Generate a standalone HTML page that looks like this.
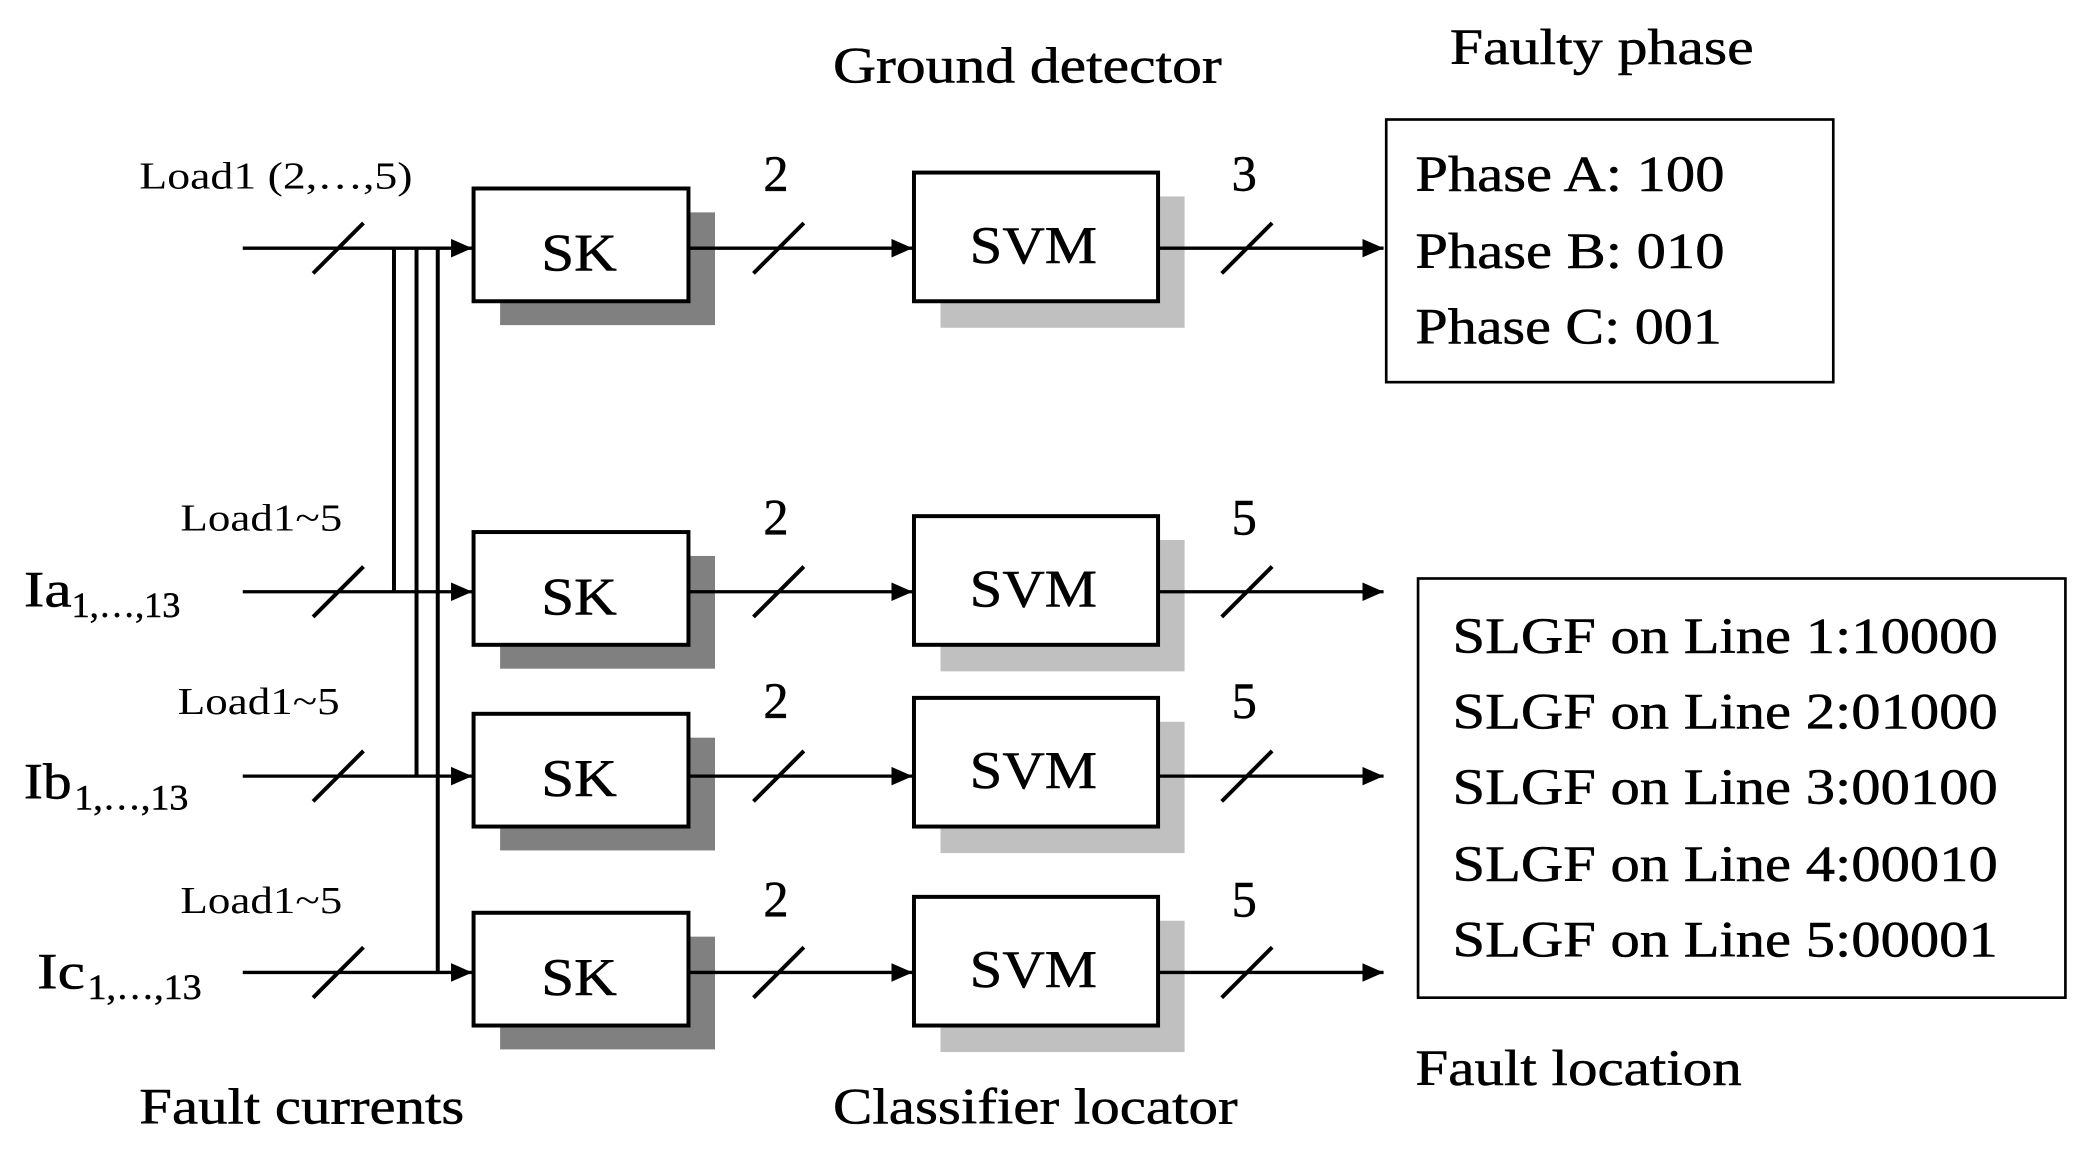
<!DOCTYPE html>
<html><head><meta charset="utf-8"><style>html,body{margin:0;padding:0;background:#fff}svg{display:block}</style></head>
<body>
<svg width="2080" height="1153" viewBox="0 0 1568 869" xmlns="http://www.w3.org/2000/svg" font-family="'Liberation Serif',serif">
<defs><marker id="a" markerWidth="16" markerHeight="14" refX="16" refY="7" orient="auto" markerUnits="userSpaceOnUse"><path d="M0,0 L16,7 L0,14 Z" fill="#000"/></marker></defs>
<g font-size="38" fill="#000" stroke="#000" stroke-width="0.4" lengthAdjust="spacingAndGlyphs">
<text x="628" y="62" textLength="293" lengthAdjust="spacingAndGlyphs">Ground detector</text>
<text x="1093" y="48" textLength="229" lengthAdjust="spacingAndGlyphs">Faulty phase</text>
<text x="105" y="847" textLength="245" lengthAdjust="spacingAndGlyphs">Fault currents</text>
<text x="628" y="847" textLength="305" lengthAdjust="spacingAndGlyphs">Classifier locator</text>
<text x="1067" y="818" textLength="246" lengthAdjust="spacingAndGlyphs">Fault location</text>
<text x="1067" y="144" textLength="233" lengthAdjust="spacingAndGlyphs">Phase A: 100</text>
<text x="1067" y="202" textLength="233" lengthAdjust="spacingAndGlyphs">Phase B: 010</text>
<text x="1067" y="259" textLength="231" lengthAdjust="spacingAndGlyphs">Phase C: 001</text>
<text x="1095" y="492" textLength="411" lengthAdjust="spacingAndGlyphs">SLGF on Line 1:10000</text>
<text x="1095" y="549" textLength="411" lengthAdjust="spacingAndGlyphs">SLGF on Line 2:01000</text>
<text x="1095" y="606" textLength="411" lengthAdjust="spacingAndGlyphs">SLGF on Line 3:00100</text>
<text x="1095" y="664" textLength="411" lengthAdjust="spacingAndGlyphs">SLGF on Line 4:00010</text>
<text x="1095" y="721" textLength="411" lengthAdjust="spacingAndGlyphs">SLGF on Line 5:00001</text>
<text x="18" y="457" textLength="36" lengthAdjust="spacingAndGlyphs">Ia</text><text x="54" y="465" font-size="27" textLength="82" lengthAdjust="spacingAndGlyphs">1,…,13</text>
<text x="18" y="602" textLength="36" lengthAdjust="spacingAndGlyphs">Ib</text><text x="56" y="610" font-size="27" textLength="86" lengthAdjust="spacingAndGlyphs">1,…,13</text>
<text x="28" y="745" textLength="36" lengthAdjust="spacingAndGlyphs">Ic</text><text x="66" y="753" font-size="27" textLength="86" lengthAdjust="spacingAndGlyphs">1,…,13</text>
</g>
<g font-size="29" fill="#000">
<text x="105" y="142" textLength="206" lengthAdjust="spacingAndGlyphs">Load1 (2,…,5)</text>
<text x="136" y="400" textLength="122" lengthAdjust="spacingAndGlyphs">Load1~5</text>
<text x="134" y="538" textLength="122" lengthAdjust="spacingAndGlyphs">Load1~5</text>
<text x="136" y="688" textLength="122" lengthAdjust="spacingAndGlyphs">Load1~5</text>
</g>
<rect x="1045" y="90" width="337" height="198" fill="none" stroke="#000" stroke-width="2"/>
<rect x="1069" y="436" width="488" height="316" fill="none" stroke="#000" stroke-width="2"/>
<g stroke="#000" stroke-width="3" fill="none">
<line x1="297" y1="187" x2="297" y2="446"/>
<line x1="314" y1="187" x2="314" y2="585"/>
<line x1="330" y1="187" x2="330" y2="733"/>
</g>
<g>
<rect x="377" y="160" width="162" height="85" fill="#808080"/><rect x="357" y="142" width="162" height="85" fill="#fff" stroke="#000" stroke-width="3"/>
<rect x="709" y="148" width="184" height="99" fill="#c0c0c0"/><rect x="689" y="130" width="184" height="97" fill="#fff" stroke="#000" stroke-width="3"/>
<rect x="377" y="419" width="162" height="85" fill="#808080"/><rect x="357" y="401" width="162" height="85" fill="#fff" stroke="#000" stroke-width="3"/>
<rect x="709" y="407" width="184" height="99" fill="#c0c0c0"/><rect x="689" y="389" width="184" height="97" fill="#fff" stroke="#000" stroke-width="3"/>
<rect x="377" y="556" width="162" height="85" fill="#808080"/><rect x="357" y="538" width="162" height="85" fill="#fff" stroke="#000" stroke-width="3"/>
<rect x="709" y="544" width="184" height="99" fill="#c0c0c0"/><rect x="689" y="526" width="184" height="97" fill="#fff" stroke="#000" stroke-width="3"/>
<rect x="377" y="706" width="162" height="85" fill="#808080"/><rect x="357" y="688" width="162" height="85" fill="#fff" stroke="#000" stroke-width="3"/>
<rect x="709" y="694" width="184" height="99" fill="#c0c0c0"/><rect x="689" y="676" width="184" height="97" fill="#fff" stroke="#000" stroke-width="3"/>
</g>
<g font-size="40" stroke="#000" stroke-width="0.4">
<text x="408" y="204" textLength="57" lengthAdjust="spacingAndGlyphs">SK</text><text x="731" y="198" textLength="96" lengthAdjust="spacingAndGlyphs">SVM</text>
<text x="408" y="463" textLength="57" lengthAdjust="spacingAndGlyphs">SK</text><text x="731" y="457" textLength="96" lengthAdjust="spacingAndGlyphs">SVM</text>
<text x="408" y="600" textLength="57" lengthAdjust="spacingAndGlyphs">SK</text><text x="731" y="594" textLength="96" lengthAdjust="spacingAndGlyphs">SVM</text>
<text x="408" y="750" textLength="57" lengthAdjust="spacingAndGlyphs">SK</text><text x="731" y="744" textLength="96" lengthAdjust="spacingAndGlyphs">SVM</text>
</g>
<g stroke="#000" stroke-width="2.5" fill="none">
<line x1="183" y1="187" x2="356" y2="187" marker-end="url(#a)"/>
<line x1="183" y1="446" x2="356" y2="446" marker-end="url(#a)"/>
<line x1="183" y1="585" x2="356" y2="585" marker-end="url(#a)"/>
<line x1="183" y1="733" x2="356" y2="733" marker-end="url(#a)"/>
<line x1="519" y1="187" x2="688" y2="187" marker-end="url(#a)"/>
<line x1="519" y1="446" x2="688" y2="446" marker-end="url(#a)"/>
<line x1="519" y1="585" x2="688" y2="585" marker-end="url(#a)"/>
<line x1="519" y1="733" x2="688" y2="733" marker-end="url(#a)"/>
<line x1="873" y1="187" x2="1043" y2="187" marker-end="url(#a)"/>
<line x1="873" y1="446" x2="1043" y2="446" marker-end="url(#a)"/>
<line x1="873" y1="585" x2="1043" y2="585" marker-end="url(#a)"/>
<line x1="873" y1="733" x2="1043" y2="733" marker-end="url(#a)"/>
<g stroke-width="3">
<line x1="236" y1="206" x2="274" y2="168"/><line x1="236" y1="465" x2="274" y2="427"/><line x1="236" y1="604" x2="274" y2="566"/><line x1="236" y1="752" x2="274" y2="714"/>
<line x1="568" y1="206" x2="606" y2="168"/><line x1="568" y1="465" x2="606" y2="427"/><line x1="568" y1="604" x2="606" y2="566"/><line x1="568" y1="752" x2="606" y2="714"/>
<line x1="921" y1="206" x2="959" y2="168"/><line x1="921" y1="465" x2="959" y2="427"/><line x1="921" y1="604" x2="959" y2="566"/><line x1="921" y1="752" x2="959" y2="714"/>
</g>
</g>
<g font-size="38" text-anchor="middle" stroke="#000" stroke-width="0.4">
<text x="585" y="144">2</text><text x="938" y="144">3</text>
<text x="585" y="403">2</text><text x="938" y="403">5</text>
<text x="585" y="541">2</text><text x="938" y="541">5</text>
<text x="585" y="691">2</text><text x="938" y="691">5</text>
</g>
</svg>
</body></html>
